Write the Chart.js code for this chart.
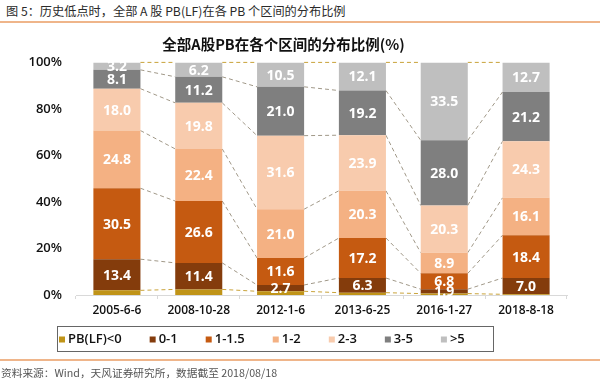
<!DOCTYPE html>
<html><head><meta charset="utf-8">
<script src="https://cdn.jsdelivr.net/npm/chart.js@4/dist/chart.umd.min.js"></script>
<style>
html,body{margin:0;padding:0;background:#fff;}
#wrap{position:relative;width:600px;height:383px;overflow:hidden;}
#c{position:absolute;left:0;top:0;}
#hdr{position:absolute;left:6px;top:2px;font:12.2px "Noto Sans CJK SC",sans-serif;color:#2a2a2a;white-space:nowrap;}
#hl{position:absolute;left:0;top:21px;width:600px;height:2px;background:#EFB58A;}
#fl{position:absolute;left:0;top:359px;width:600px;height:2px;background:#EFB58A;}
#ftr{position:absolute;left:1px;top:365px;font:10.7px "Noto Sans CJK SC",sans-serif;color:#555;white-space:nowrap;}
</style></head>
<body><div id="wrap">
<div id="hdr">图 5：历史低点时，全部 A 股 PB(LF)在各 PB 个区间的分布比例</div>
<div id="hl"></div>
<canvas id="c" width="600" height="383"></canvas>
<div id="fl"></div>
<div id="ftr">资料来源：Wind，天风证券研究所，数据截至 2018/08/18</div>
</div>
<script>
const categories = ['2005-6-6','2008-10-28','2012-1-6','2013-6-25','2016-1-27','2018-8-18'];
const seriesNames = ['PB(LF)<0','0-1','1-1.5','1-2','2-3','3-5','>5'];
const pbNeg  = [2.0, 2.4, 1.6, 1.0, 0.6, 0.3];
const pb0_1  = [13.4, 11.4, 2.7, 6.3, 1.9, 7.0];
const pb1_15 = [30.5, 26.6, 11.6, 17.2, 6.8, 18.4];
const pb1_2  = [24.8, 22.4, 21.0, 20.3, 8.9, 16.1];
const pb2_3  = [18.0, 19.8, 31.6, 23.9, 20.3, 24.3];
const pb3_5  = [8.1, 11.2, 21.0, 19.2, 28.0, 21.2];
const pbGt5  = [3.2, 6.2, 10.5, 12.1, 33.5, 12.7];
const yTicks = [0, 20, 40, 60, 80, 100];
const colors = ['#C09418','#843C0C','#C55A11','#F4B183','#F8CBAD','#7F7F7F','#BFBFBF'];
const seriesValues = [pbNeg, pb0_1, pb1_15, pb1_2, pb2_3, pb3_5, pbGt5];

const datasets = seriesValues.map((v,i)=>({
  label: seriesNames[i], data: v, backgroundColor: colors[i],
  barPercentage: 0.575, categoryPercentage: 1.0, borderWidth: 0
}));

const seriesLines = {
  id: 'seriesLines',
  beforeDatasetsDraw(chart){
    const ctx = chart.ctx;
    ctx.save();
    ctx.lineWidth = 1;
    ctx.setLineDash([4,3]);
    const n = chart.data.datasets.length;
    for (let i=0;i<n;i++){
      const meta = chart.getDatasetMeta(i);
      ctx.strokeStyle = (i===n-1 || i===0) ? '#C9A33A' : '#A09888';
      for (let j=0;j<meta.data.length-1;j++){
        const a = meta.data[j], b = meta.data[j+1];
        ctx.beginPath();
        ctx.moveTo(a.x + a.width/2, a.y);
        ctx.lineTo(b.x - b.width/2, b.y);
        ctx.stroke();
      }
    }
    ctx.restore();
  },
  afterDatasetsDraw(chart){
    const ctx = chart.ctx;
    ctx.save();
    ctx.fillStyle = '#fff';
    ctx.font = '700 14px "Open Sans", sans-serif';
    ctx.textAlign = 'center';
    ctx.textBaseline = 'middle';
    chart.data.datasets.forEach((ds,i)=>{
      if (i===0) return;
      const meta = chart.getDatasetMeta(i);
      meta.data.forEach((el,j)=>{
        const v = ds.data[j];
        ctx.fillText(v.toFixed(1), el.x, (el.y+el.base)/2 + 1);
      });
    });
    ctx.restore();
  },
  afterDraw(chart){
    const ctx = chart.ctx;
    ctx.save();
    const bx=57, by=326, bw=436, bh=25;
    ctx.strokeStyle = '#666';
    ctx.lineWidth = 1;
    ctx.strokeRect(bx+0.5, by+0.5, bw, bh);
    ctx.font = '600 13px "Open Sans", sans-serif';
    ctx.textBaseline = 'middle';
    ctx.textAlign = 'left';
    let x = bx + 2;
    const cy = by + bh/2 + 1;
    chart.data.datasets.forEach((ds)=>{
      ctx.fillStyle = ds.backgroundColor;
      ctx.fillRect(x, cy-3, 6, 6);
      x += 9;
      ctx.fillStyle = '#111';
      ctx.fillText(ds.label, x, cy);
      x += ctx.measureText(ds.label).width + 28;
    });
    ctx.restore();
  }
};

new Chart(document.getElementById('c'), {
  type: 'bar',
  data: { labels: categories, datasets },
  plugins: [seriesLines],
  options: {
    responsive: false,
    animation: false,
    layout: { padding: { left: 0, right: 33, top: 0, bottom: 58 } },
    plugins: {
      legend: { display: false },
      tooltip: { enabled: false },
      title: {
        display: true,
        text: '全部A股PB在各个区间的分布比例(%)',
        color: '#111',
        font: { family: '"Noto Sans CJK SC", sans-serif', size: 14.5, weight: 'bold' },
        padding: { top: 36, bottom: 9 }
      }
    },
    scales: {
      x: {
        stacked: true,
        grid: { display: true, drawOnChartArea: false, drawTicks: true, tickLength: 4, color: '#D9D9D9' },
        border: { display: true, color: '#D9D9D9' },
        ticks: { color: '#111', font: { family: '"Open Sans", sans-serif', size: 12, weight: '600' }, padding: 4 },
        afterFit(axis){ axis.height = 30; }
      },
      y: {
        stacked: true, min: 0, max: 100,
        afterBuildTicks(axis){ axis.ticks = yTicks.map(v=>({value:v})); },
        grid: { display: false, drawTicks: false },
        border: { display: false },
        ticks: { color: '#111', font: { family: '"Open Sans", sans-serif', size: 13, weight: '600' }, padding: 14,
          callback: v => v + '%' },
        afterFit(axis){ axis.width = 76; }
      }
    }
  }
});
</script>
</body></html>
